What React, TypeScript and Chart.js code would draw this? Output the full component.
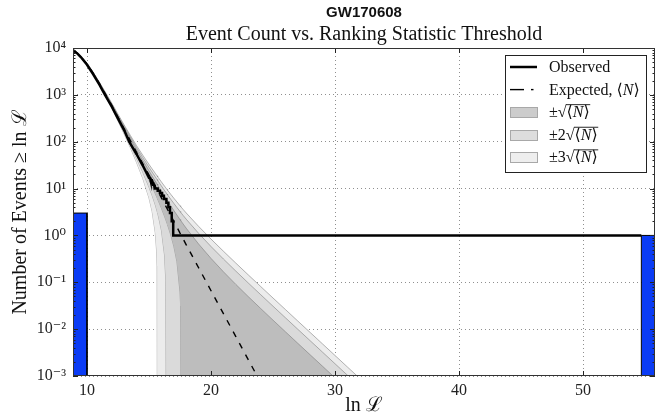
import React, { useEffect, useRef } from 'react';
import { Chart, registerables } from 'chart.js';

Chart.register(...registerables);

const SERIF = '"Liberation Serif", "DejaVu Serif", serif';
const SANS = '"Liberation Sans", Arial, sans-serif';

const titleText = 'GW170608';
const subtitleText = 'Event Count vs. Ranking Statistic Threshold';
const xAxisLabel = 'ln ℒ';
const yAxisLabel = 'Number of Events ≥ ln ℒ';

const xMin = 8.87;
const xMax = 55.8;
const yMin = 1e-3;
const yMax = 1e4;
const xTicks = [10, 20, 30, 40, 50];
const yTickExponents = [-3, -2, -1, 0, 1, 2, 3, 4];

// Expected count <N>
const expectedX = [8.87, 9.25, 9.5, 10, 10.5, 11, 11.5, 12, 12.5, 13, 13.5, 14, 14.5, 15, 15.25, 15.5, 15.6, 15.65, 15.7, 15.75, 16, 16.25, 16.35, 16.45, 16.5, 16.75, 17, 17.25, 17.5, 17.55, 17.65, 17.75, 18, 19, 20, 21, 22, 23, 24, 25, 26, 27, 28, 29, 30, 31, 32, 33, 34];
const expectedN = [9100, 7600, 6450, 4570, 2880, 1740, 1020, 589, 331, 186, 105, 58.9, 33.9, 19.5, 14.8, 11.2, 10.0, 9.44, 8.91, 8.41, 6.31, 4.73, 4.22, 3.76, 3.55, 2.66, 2.0, 1.50, 1.12, 1.06, 0.944, 0.841, 0.631, 0.204, 0.066, 0.0214, 6.92e-3, 2.24e-3, 7.24e-4, 2.34e-4, 7.59e-5, 2.45e-5, 7.94e-6, 2.57e-6, 8.32e-7, 2.69e-7, 8.71e-8, 2.82e-8, 9.12e-9];

// Observed cumulative count: smooth part then individual drops
const observedSmoothX = [8.87, 9.25, 9.5, 10, 10.5, 11, 11.45, 12, 12.5, 13, 13.4, 14, 14.5, 15.0];
const observedSmoothN = [9000, 7500, 6400, 4400, 2750, 1650, 1000, 560, 310, 175, 100, 54, 31, 17];
const observedDropX = [15.08, 15.15, 15.22, 15.28, 15.34, 15.41, 15.48, 15.7, 15.88, 16.05, 16.2, 16.4, 16.56, 16.69, 16.83, 16.95];
const observedDropN = [16, 15, 14, 13, 12, 11, 10, 9, 8, 7, 6, 5, 4, 3, 2, 1];
const observedEndX = 54.7;

// Histogram bars (blue)
const barLeft = [8.5, 54.7];
const barRight = [10.0, 56.5];
const barCount = [3, 1];

const sigmaLevels = [1, 2, 3];
const bandFill = ['#bdbdbd', '#dadada', '#ececec'];
const legendPatch = ['#cccccc', '#dddddd', '#eeeeee'];
const legendLabels = ['Observed', 'Expected, ⟨N⟩', '±√⟨N⟩', '±2√⟨N⟩', '±3√⟨N⟩'];

const TINY = 1e-9;
const SUP: Record<string, string> = { '-': '⁻', '0': '⁰', '1': '¹', '2': '²', '3': '³', '4': '⁴', '5': '⁵', '6': '⁶', '7': '⁷', '8': '⁸', '9': '⁹' };
const pow10Label = (v: number) => '10' + String(Math.round(Math.log10(v))).split('').map((c) => SUP[c]).join('');

function buildObserved() {
  const pts: { x: number; y: number }[] = observedSmoothX.map((x, i) => ({ x, y: observedSmoothN[i] }));
  let prev = observedSmoothN[observedSmoothN.length - 1];
  observedDropX.forEach((x, i) => {
    pts.push({ x, y: prev });
    pts.push({ x, y: observedDropN[i] });
    prev = observedDropN[i];
  });
  pts.push({ x: observedEndX, y: prev });
  return pts;
}

function buildDatasets() {
  const ds: any[] = [];
  ds.push({
    label: 'Observed', data: buildObserved(), borderColor: '#000', borderWidth: 2.5, fill: false, order: 0,
  });
  ds.push({
    label: 'Expected', data: expectedX.map((x, i) => ({ x, y: expectedN[i] })), borderColor: '#000',
    borderWidth: 1.4, borderDash: [6, 7], fill: false, order: 1, clip: 0,
  });
  barLeft.forEach((l, i) => {
    ds.push({
      label: 'bar' + i,
      data: [{ x: l, y: TINY }, { x: l, y: barCount[i] }, { x: barRight[i], y: barCount[i] }, { x: barRight[i], y: TINY }],
      borderColor: '#000', borderWidth: 1, backgroundColor: '#0b3cf5', fill: 'start', order: 2, clip: 0,
    });
  });
  sigmaLevels.forEach((k, j) => {
    const upperIndex = ds.length;
    ds.push({
      label: 'up' + k,
      data: expectedX.map((x, i) => ({ x, y: expectedN[i] + k * Math.sqrt(expectedN[i]) })),
      borderColor: 'rgba(120,120,120,0.55)', borderWidth: 1, backgroundColor: bandFill[j],
      fill: upperIndex + 1, order: 3 + 2 * j, clip: 0,
    });
    ds.push({
      label: 'lo' + k,
      data: expectedX.map((x, i) => ({ x, y: Math.max(expectedN[i] - k * Math.sqrt(expectedN[i]), TINY) })),
      borderColor: 'rgba(120,120,120,0.55)', borderWidth: 1, fill: false, order: 4 + 2 * j, clip: 0,
    });
  });
  return ds;
}

function seg(ctx: CanvasRenderingContext2D, x1: number, y1: number, x2: number, y2: number) {
  ctx.beginPath();
  ctx.moveTo(x1, y1);
  ctx.lineTo(x2, y2);
  ctx.stroke();
}

function drawMath(ctx: CanvasRenderingContext2D, text: string, x: number, y: number, size: number) {
  let cx = x;
  let inBr = false;
  let barStart = -1;
  let barY = 0;
  for (const ch of Array.from(text)) {
    if (ch === '⟨') inBr = true;
    const italic = inBr && ch === 'N';
    ctx.font = `${italic ? 'italic ' : ''}${size}px ${SERIF}`;
    ctx.fillText(ch, cx, y);
    const m = ctx.measureText(ch);
    if (ch === '√') {
      barStart = cx + m.width;
      barY = y - m.actualBoundingBoxAscent;
    }
    cx += m.width;
    if (ch === '⟩') inBr = false;
  }
  if (barStart >= 0) {
    ctx.lineWidth = 0.9;
    ctx.strokeStyle = '#111';
    seg(ctx, barStart - 0.6, barY + 0.45, cx + 0.5, barY + 0.45);
  }
}

const decorPlugin = {
  id: 'decor',
  afterDraw(chart: any) {
    const { ctx, chartArea: ca, scales } = chart;
    const xs = scales.x;
    const ys = scales.y;
    ctx.save();
    const cx = (ca.left + ca.right) / 2;
    ctx.fillStyle = '#111';
    ctx.textAlign = 'center';
    ctx.textBaseline = 'middle';
    ctx.font = `bold 15px ${SANS}`;
    ctx.fillText(titleText, cx, 13);
    ctx.font = `20px ${SERIF}`;
    ctx.fillText(subtitleText, cx, 35);

    // tick marks (inside)
    ctx.strokeStyle = '#222';
    ctx.lineWidth = 1;
    for (const e of yTickExponents) {
      const py = Math.round(ys.getPixelForValue(Math.pow(10, e))) + 0.5;
      seg(ctx, ca.left, py, ca.left + 5, py);
      seg(ctx, ca.right - 5, py, ca.right, py);
      if (e < 4) {
        for (let m = 2; m <= 9; m++) {
          const p = Math.round(ys.getPixelForValue(m * Math.pow(10, e))) + 0.5;
          seg(ctx, ca.left, p, ca.left + 2.5, p);
          seg(ctx, ca.right - 2.5, p, ca.right, p);
        }
      }
    }
    for (const v of xTicks) {
      const px = Math.round(xs.getPixelForValue(v)) + 0.5;
      seg(ctx, px, ca.bottom, px, ca.bottom - 5);
      seg(ctx, px, ca.top, px, ca.top + 5);
    }
    // frame
    ctx.strokeStyle = '#333';
    ctx.strokeRect(Math.round(ca.left) + 0.5, Math.round(ca.top) + 0.5, Math.round(ca.right - ca.left) - 1, Math.round(ca.bottom - ca.top) - 1);

    // legend
    const lx = 505.5, ly = 55.5, lw = 141, lh = 117;
    ctx.fillStyle = '#fff';
    ctx.fillRect(lx, ly, lw, lh);
    ctx.strokeStyle = '#222';
    ctx.lineWidth = 1;
    ctx.strokeRect(lx, ly, lw, lh);
    const rowY = (i: number) => 67 + i * 22.6;
    ctx.strokeStyle = '#000';
    ctx.lineWidth = 2.5;
    seg(ctx, 510, rowY(0), 537, rowY(0));
    ctx.lineWidth = 1.4;
    seg(ctx, 510, rowY(1), 524, rowY(1));
    seg(ctx, 531, rowY(1), 533.5, rowY(1));
    sigmaLevels.forEach((_, j) => {
      const y = Math.round(rowY(2 + j) - 5) + 0.5;
      ctx.fillStyle = legendPatch[j];
      ctx.fillRect(510.5, y, 27, 10);
      ctx.strokeStyle = '#a8a8a8';
      ctx.lineWidth = 1;
      ctx.strokeRect(510.5, y, 27, 10);
    });
    ctx.fillStyle = '#111';
    ctx.textAlign = 'left';
    ctx.textBaseline = 'alphabetic';
    legendLabels.forEach((t, i) => drawMath(ctx, t, 549, rowY(i) + 5, 16));
    ctx.restore();
  },
};

export default function App() {
  const ref = useRef<HTMLCanvasElement>(null);
  useEffect(() => {
    document.body.style.margin = '0';
    const tickFont = { family: SERIF, size: 16 };
    const chart = new Chart(ref.current as HTMLCanvasElement, {
      type: 'line',
      data: { datasets: buildDatasets() },
      options: {
        animation: false,
        responsive: false,
        devicePixelRatio: 1,
        layout: { padding: { top: 48, right: 13, left: 0, bottom: 0 } },
        elements: { point: { radius: 0 }, line: { tension: 0 } },
        plugins: { legend: { display: false }, title: { display: false }, tooltip: { enabled: false } },
        scales: {
          x: {
            type: 'linear', min: xMin, max: xMax,
            afterBuildTicks: (s: any) => { s.ticks = xTicks.map((v) => ({ value: v })); },
            afterFit: (s: any) => { s.height = 40; },
            ticks: { font: tickFont, color: '#222', padding: 5, callback: (v: any) => String(v) },
            grid: { color: '#8f8f8f', lineWidth: 1, drawTicks: false },
            border: { display: false, dash: [1, 3] },
            title: { display: true, text: xAxisLabel, font: { family: SERIF, size: 20, lineHeight: 1 }, color: '#111', padding: { top: 0, bottom: 0 } },
          },
          y: {
            type: 'logarithmic', min: yMin, max: yMax,
            afterBuildTicks: (s: any) => { s.ticks = yTickExponents.map((e) => ({ value: Math.pow(10, e) })); },
            afterFit: (s: any) => { s.width = 73; },
            ticks: { font: tickFont, color: '#222', padding: 7, callback: (v: any) => pow10Label(Number(v)) },
            grid: { color: '#8f8f8f', lineWidth: 1, drawTicks: false },
            border: { display: false, dash: [1, 3] },
            title: { display: true, text: yAxisLabel, font: { family: SERIF, size: 20, lineHeight: 1.2 }, color: '#111', padding: { top: 9, bottom: 0 } },
          },
        },
      } as any,
      plugins: [decorPlugin],
    });
    return () => chart.destroy();
  }, []);
  return (
    <div style={{ width: 668, height: 416 }}>
      <canvas ref={ref} width={668} height={416} style={{ display: 'block', width: 668, height: 416 }} />
    </div>
  );
}
